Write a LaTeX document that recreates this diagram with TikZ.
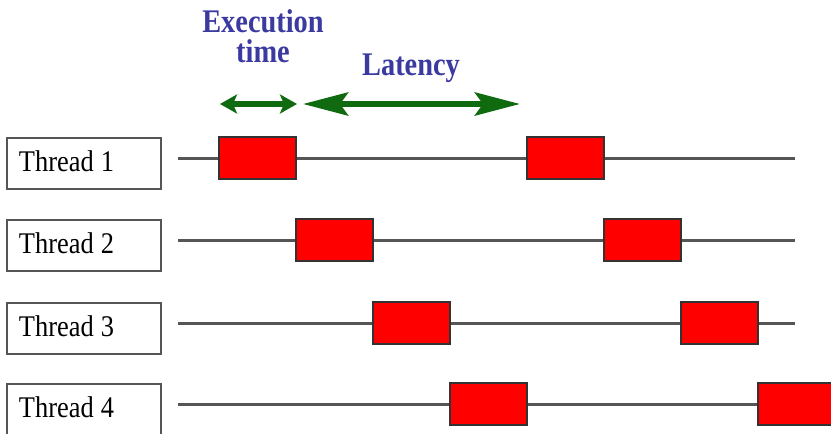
\documentclass[tikz,border=0pt]{standalone}
\usepackage{fontspec}
\setmainfont{Liberation Serif}
\newfontfamily\threadfont[FakeStretch=0.88,WordSpace=0.6]{Liberation Serif}
\newfontfamily\headfont[FakeStretch=0.86]{Liberation Serif}
\usepackage[]{tikz}
\usetikzlibrary{arrows.meta}
\usetikzlibrary{positioning}
\definecolor{headblue}{RGB}{58,58,160}
\definecolor{spangreen}{RGB}{16,106,16}
\definecolor{linegray}{RGB}{85,85,85}
\tikzset{threadbox/.style = {draw=linegray, line width=2pt, fill=white, text width=130pt, align=left, inner xsep=12pt, inner ysep=0, text depth=4pt, minimum height=51pt, anchor=north west, font=\threadfont\fontsize{30}{30}\selectfont}}
\tikzset{job/.style = {draw=black!80, line width=1.8pt, fill=red, minimum width=77pt, minimum height=42pt, inner sep=0, anchor=west}}
\tikzset{timeline/.style = {linegray, line width=3pt}}
\tikzset{headtext/.style = {headblue, anchor=base, inner sep=0, font=\headfont\bfseries\fontsize{33}{30}\selectfont}}
\tikzset{span/.style = {spangreen, line width=6pt}}

\begin{document}
\begin{tikzpicture}[x=1pt,y=-1pt]
        \useasboundingbox (0,0) rectangle (831,434);
        % labels above the first thread
        \node[headtext] (exec1) at (263,32) {Execution};
        \node[headtext] (exec2) at (263,62) {time};
        \node[headtext] (lat) at (411,75) {Latency};
        \coordinate (execL) at (220,104);
        \coordinate (execR) at (297,104);
        \coordinate (latL) at (303,104);
        \coordinate (latR) at (520,104);
        \draw [span, {Stealth[length=17pt,width=19pt,inset=4pt]}-{Stealth[length=17pt,width=19pt,inset=4pt]}] (execL)--(execR);
        \draw [span, {Stealth[length=45pt,width=23pt,inset=8pt]}-{Stealth[length=45pt,width=23pt,inset=8pt]}] (latL)--(latR);
        % one row per thread
        \foreach \i/\top/\stop in {1/137/795,2/219/795,3/302/795,4/383/831} {
            \node[threadbox] (thread\i) at (6,\top) {Thread\hspace{-3pt} \i};
            \coordinate (start\i) at (178,\top+21);
            \coordinate (stop\i) at (\stop,\top+21);
            \draw [timeline] (start\i)--(stop\i);
            \node[job] (joba\i) at (141+77*\i,\top+21) {};
            \node[job] (jobb\i) at (449+77*\i,\top+21) {};
        }
    \end{tikzpicture}
\end{document}
